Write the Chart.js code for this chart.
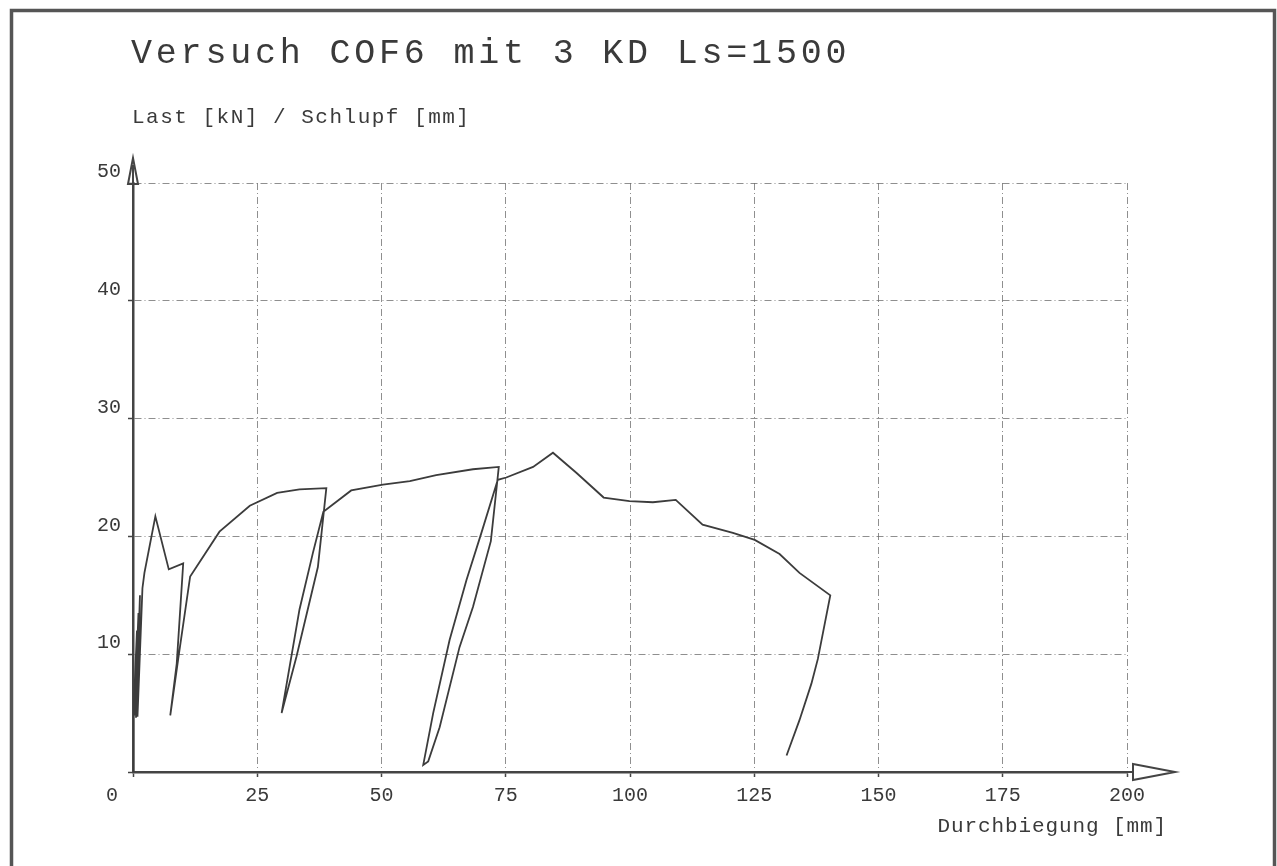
<!DOCTYPE html>
<html>
<head>
<meta charset="utf-8">
<script src="https://cdn.jsdelivr.net/npm/chart.js@4.4.0/dist/chart.umd.min.js"></script>
<style>
  html, body { margin: 0; padding: 0; background: #fff; overflow: hidden; }
  #wrap { width: 1277px; height: 866px; position: relative; }
</style>
</head>
<body>
<div id="wrap"><canvas id="c" width="1277" height="866"></canvas></div>
<script>
// Texts
const chartTitle = 'Versuch COF6 mit 3 KD Ls=1500';
const yAxisLabel = 'Last [kN] / Schlupf [mm]';
const xAxisLabel = 'Durchbiegung [mm]';

// Tick values
const xTicks = [0, 25, 50, 75, 100, 125, 150, 175, 200];
const yTicks = [0, 10, 20, 30, 40, 50];

// Measured curve: deflection [mm] vs. load [kN], in recording order
const deflection = [0, 0.1, 0.8, 0.3, 1.1, 0.6, 1.4, 0.9, 1.9, 2.3,
  4.5, 7.2, 10.1, 8.8, 7.5, 9.1, 11.5, 17.4, 23.5, 29.0,
  33.5, 38.9, 38.5, 37.2, 32.9, 29.9, 33.5, 36.2, 38.3, 43.9,
  50.3, 55.7, 61.0, 68.4, 73.6, 73.2, 72.0, 68.4, 65.7, 61.7,
  59.4, 58.4, 60.4, 63.7, 67.1, 70.1, 73.4, 75.1, 80.5, 84.5,
  89.2, 94.7, 99.9, 104.6, 109.2, 114.6, 120.7, 125.1, 130.1, 134.1,
  140.3, 137.8, 136.5, 134.1, 131.5];
const load = [0, 5.0, 12.0, 4.8, 13.5, 4.6, 15.0, 4.7, 15.6, 16.9,
  21.7, 17.2, 17.7, 9.2, 4.8, 9.6, 16.6, 20.4, 22.6, 23.7,
  24.0, 24.1, 22.5, 17.4, 9.8, 5.0, 13.8, 18.6, 22.1, 23.9,
  24.4, 24.7, 25.2, 25.7, 25.9, 24.3, 19.6, 14.0, 10.6, 3.8,
  0.9, 0.6, 5.0, 11.2, 16.3, 20.3, 24.8, 25.0, 25.9, 27.1,
  25.4, 23.3, 23.0, 22.9, 23.1, 21.0, 20.3, 19.7, 18.5, 16.9,
  15.0, 9.6, 7.5, 4.4, 1.4];

const points = deflection.map((x, i) => ({ x: x, y: load[i] }));

const ink = '#3a3a3a';
const axisInk = '#444';
const gridInk = 'rgba(105,105,105,0.75)';
const mono = '"Liberation Mono", "DejaVu Sans Mono", monospace';

function spacedText(ctx, text, x, y, font, spacing, align) {
  ctx.font = font;
  ctx.textAlign = align;
  if ('letterSpacing' in ctx) ctx.letterSpacing = spacing + 'px';
  ctx.fillText(text, x, y);
  if ('letterSpacing' in ctx) ctx.letterSpacing = '0px';
}

// Frame, title, axis arrows and free-standing labels
const plotterDecor = {
  id: 'plotterDecor',
  beforeDraw(chart) {
    const ctx = chart.ctx;
    ctx.save();
    ctx.fillStyle = '#fff';
    ctx.fillRect(0, 0, chart.width, chart.height);
    ctx.strokeStyle = '#555';
    ctx.lineWidth = 3.5;
    ctx.strokeRect(11.5, 10.5, 1263, 900);
    ctx.restore();
  },
  afterDraw(chart) {
    const ctx = chart.ctx;
    const xs = chart.scales.x, ys = chart.scales.y;
    const x0 = xs.getPixelForValue(0);
    const xMax = xs.getPixelForValue(200);
    const y0 = ys.getPixelForValue(0);
    const yMax = ys.getPixelForValue(50);
    ctx.save();
    ctx.strokeStyle = axisInk;
    ctx.lineWidth = 2;
    // x arrow
    ctx.beginPath();
    ctx.moveTo(xMax, y0);
    ctx.lineTo(xMax + 6, y0);
    ctx.stroke();
    ctx.beginPath();
    ctx.moveTo(xMax + 6, y0 - 8);
    ctx.lineTo(xMax + 48, y0);
    ctx.lineTo(xMax + 6, y0 + 8);
    ctx.closePath();
    ctx.stroke();
    // y arrow
    ctx.beginPath();
    ctx.moveTo(x0 - 5, yMax + 1);
    ctx.lineTo(x0, yMax - 25);
    ctx.lineTo(x0 + 5, yMax + 1);
    ctx.closePath();
    ctx.stroke();
    ctx.beginPath();
    ctx.moveTo(x0, yMax + 1);
    ctx.lineTo(x0, yMax - 18);
    ctx.stroke();

    ctx.fillStyle = ink;
    ctx.textBaseline = 'middle';
    spacedText(ctx, chartTitle, 131, 54, '35px ' + mono, 3.8, 'left');
    spacedText(ctx, yAxisLabel, 132, 117, '21px ' + mono, 1.5, 'left');
    spacedText(ctx, xAxisLabel, 1167, 826, '21px ' + mono, 0.9, 'right');
    ctx.font = '20px ' + mono;
    ctx.textAlign = 'center';
    ctx.fillText('0', x0 - 21, 796);
    ctx.restore();
  }
};

new Chart(document.getElementById('c'), {
  type: 'scatter',
  data: {
    datasets: [{
      data: points,
      showLine: true,
      borderColor: '#3c3c3c',
      borderWidth: 1.8,
      pointRadius: 0,
      tension: 0,
      fill: false
    }]
  },
  options: {
    responsive: false,
    animation: false,
    layout: { padding: { left: 80, right: 150, top: 183, bottom: 0 } },
    plugins: {
      legend: { display: false },
      tooltip: { enabled: false },
      title: { display: false }
    },
    scales: {
      x: {
        type: 'linear',
        min: 0,
        max: 200,
        afterBuildTicks: s => { s.ticks = xTicks.map(v => ({ value: v })); },
        afterFit: s => { s.height = 94; },
        ticks: {
          callback: v => (v === 0 ? '' : String(v)),
          color: ink,
          font: { family: mono, size: 20 },
          padding: 7,
          maxRotation: 0,
          autoSkip: false
        },
        grid: {
          color: gridInk,
          lineWidth: 1,
          tickLength: 5,
          tickColor: axisInk,
          tickWidth: 1.5,
          tickBorderDash: []
        },
        border: { display: true, color: axisInk, width: 2.5, dash: [7, 3, 1, 3] }
      },
      y: {
        type: 'linear',
        min: 0,
        max: 50,
        afterBuildTicks: s => { s.ticks = yTicks.map(v => ({ value: v })); },
        afterFit: s => { s.width = 53; },
        ticks: {
          callback: v => (v === 0 ? '' : String(v)),
          color: ink,
          font: { family: mono, size: 20 },
          padding: 7,
          labelOffset: -11
        },
        grid: {
          color: gridInk,
          lineWidth: 1,
          tickLength: 5,
          tickColor: axisInk,
          tickWidth: 1.5,
          tickBorderDash: []
        },
        border: { display: true, color: axisInk, width: 2.5, dash: [7, 3, 1, 3] }
      }
    }
  },
  plugins: [plotterDecor]
});
</script>
</body>
</html>
